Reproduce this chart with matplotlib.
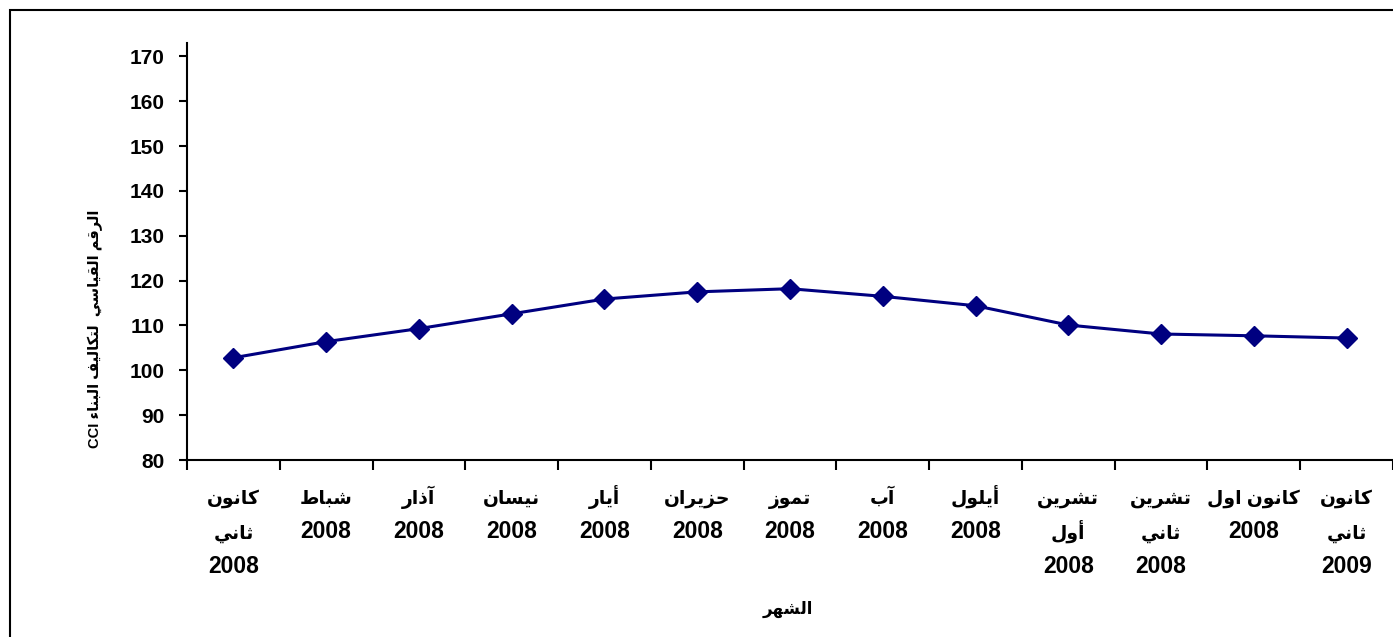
import matplotlib
matplotlib.use("Agg")
import matplotlib.pyplot as plt
from matplotlib.patches import Rectangle
from matplotlib.transforms import blended_transform_factory

# CCI by month
months = [
    "كانون\nثاني\n2008",
    "شباط\n2008",
    "آذار\n2008",
    "نيسان\n2008",
    "أيار\n2008",
    "حزيران\n2008",
    "تموز\n2008",
    "آب\n2008",
    "أيلول\n2008",
    "تشرين\nأول\n2008",
    "تشرين\nثاني\n2008",
    "كانون اول\n2008",
    "كانون\nثاني\n2009",
]
cci = [102.8, 106.4, 109.3, 112.6, 115.9, 117.5, 118.2, 116.5, 114.4, 110.1, 108.1, 107.7, 107.2]
y_ticks = [80, 90, 100, 110, 120, 130, 140, 150, 160, 170]
x_title = "الشهر"
y_title = "الرقم القياسي  لتكاليف البناء CCI"

# matplotlib does no Arabic shaping, so pick presentation forms by hand
# forms: isolated, final, initial, medial
_FORMS = {
    "\u0621": "\uFE80",
    "\u0622": "\uFE81\uFE82",
    "\u0623": "\uFE83\uFE84",
    "\u0627": "\uFE8D\uFE8E",
    "\u0628": "\uFE8F\uFE90\uFE91\uFE92",
    "\u062A": "\uFE95\uFE96\uFE97\uFE98",
    "\u062B": "\uFE99\uFE9A\uFE9B\uFE9C",
    "\u062D": "\uFEA1\uFEA2\uFEA3\uFEA4",
    "\u0630": "\uFEAB\uFEAC",
    "\u0631": "\uFEAD\uFEAE",
    "\u0632": "\uFEAF\uFEB0",
    "\u0633": "\uFEB1\uFEB2\uFEB3\uFEB4",
    "\u0634": "\uFEB5\uFEB6\uFEB7\uFEB8",
    "\u0637": "\uFEC1\uFEC2\uFEC3\uFEC4",
    "\u0641": "\uFED1\uFED2\uFED3\uFED4",
    "\u0642": "\uFED5\uFED6\uFED7\uFED8",
    "\u0643": "\uFED9\uFEDA\uFEDB\uFEDC",
    "\u0644": "\uFEDD\uFEDE\uFEDF\uFEE0",
    "\u0645": "\uFEE1\uFEE2\uFEE3\uFEE4",
    "\u0646": "\uFEE5\uFEE6\uFEE7\uFEE8",
    "\u0647": "\uFEE9\uFEEA\uFEEB\uFEEC",
    "\u0648": "\uFEED\uFEEE",
    "\u064A": "\uFEF1\uFEF2\uFEF3\uFEF4",
}


def _shape_word(word):
    out = []
    for i, ch in enumerate(word):
        forms = _FORMS.get(ch)
        if forms is None:
            out.append(ch)
            continue
        prev = word[i - 1] if i > 0 else ""
        nxt = word[i + 1] if i + 1 < len(word) else ""
        join_prev = len(_FORMS.get(prev, "")) == 4
        join_next = len(forms) == 4 and len(_FORMS.get(nxt, "")) >= 2
        if join_prev and join_next:
            out.append(forms[3])
        elif join_prev:
            out.append(forms[1])
        elif join_next:
            out.append(forms[2])
        else:
            out.append(forms[0])
    return "".join(out)


def is_arabic(text):
    return any(c in _FORMS for c in text)


def rtl(line):
    vis = []
    for tok in reversed(line.split(" ")):
        vis.append(_shape_word(tok)[::-1] if is_arabic(tok) else tok)
    return " ".join(vis)


FONT = ["Liberation Sans", "DejaVu Sans"]
NAVY = "#000080"
W, H = 1393, 637

fig = plt.figure(figsize=(W / 100, H / 100), dpi=100)
ax = fig.add_axes([187 / W, 177 / H, 1 - 187 / W, (460 - 43) / H])

x = list(range(len(months)))
ax.plot(x, cci, color=NAVY, linewidth=2.2, marker="D", markersize=10,
        markerfacecolor=NAVY, markeredgecolor=NAVY, clip_on=False)

ax.set_xlim(-0.5, len(months) - 0.5)
ax.set_ylim(80, 173)
ax.set_yticks(y_ticks)
ax.set_yticklabels([str(v) for v in y_ticks], family=FONT, weight="bold", fontsize=15)

ax.set_xticks(x)
ax.set_xticks([i - 0.5 for i in range(len(months) + 1)], minor=True)
ax.tick_params(axis="x", which="major", length=0, labelbottom=False)
ax.tick_params(axis="x", which="minor", length=7, width=1.5, direction="out")
ax.tick_params(axis="y", which="major", length=6, width=1.5, direction="out", pad=10)

for side in ("top", "right"):
    ax.spines[side].set_visible(False)
for side in ("left", "bottom"):
    ax.spines[side].set_linewidth(1.5)

# month labels, one text per line so rows stay evenly spaced
trans = blended_transform_factory(ax.transData, fig.transFigure)
for xi, label in zip(x, months):
    for j, line in enumerate(label.split("\n")):
        ar = is_arabic(line)
        ax.text(xi, 1 - (504 + 34.3 * j) / H, rtl(line), transform=trans,
                family=FONT, weight="bold", fontsize=13.5 if ar else 16.5,
                ha="center", va="baseline")

fig.text(788 / W, 1 - 609 / H, rtl(x_title), family=FONT, weight="bold",
         fontsize=12, ha="center", va="center")
fig.text(95 / W, 1 - 329 / H, rtl(y_title), family=FONT, weight="bold",
         fontsize=10.5, rotation=90, ha="center", va="center")

# chart-area frame (right and bottom edges fall outside the image)
fig.patches.append(Rectangle((10 / W, -0.5), 2, 1.5 - 10 / H,
                             transform=fig.transFigure, fill=False,
                             edgecolor="black", linewidth=1.5))

fig.savefig("out.png", dpi=100)
